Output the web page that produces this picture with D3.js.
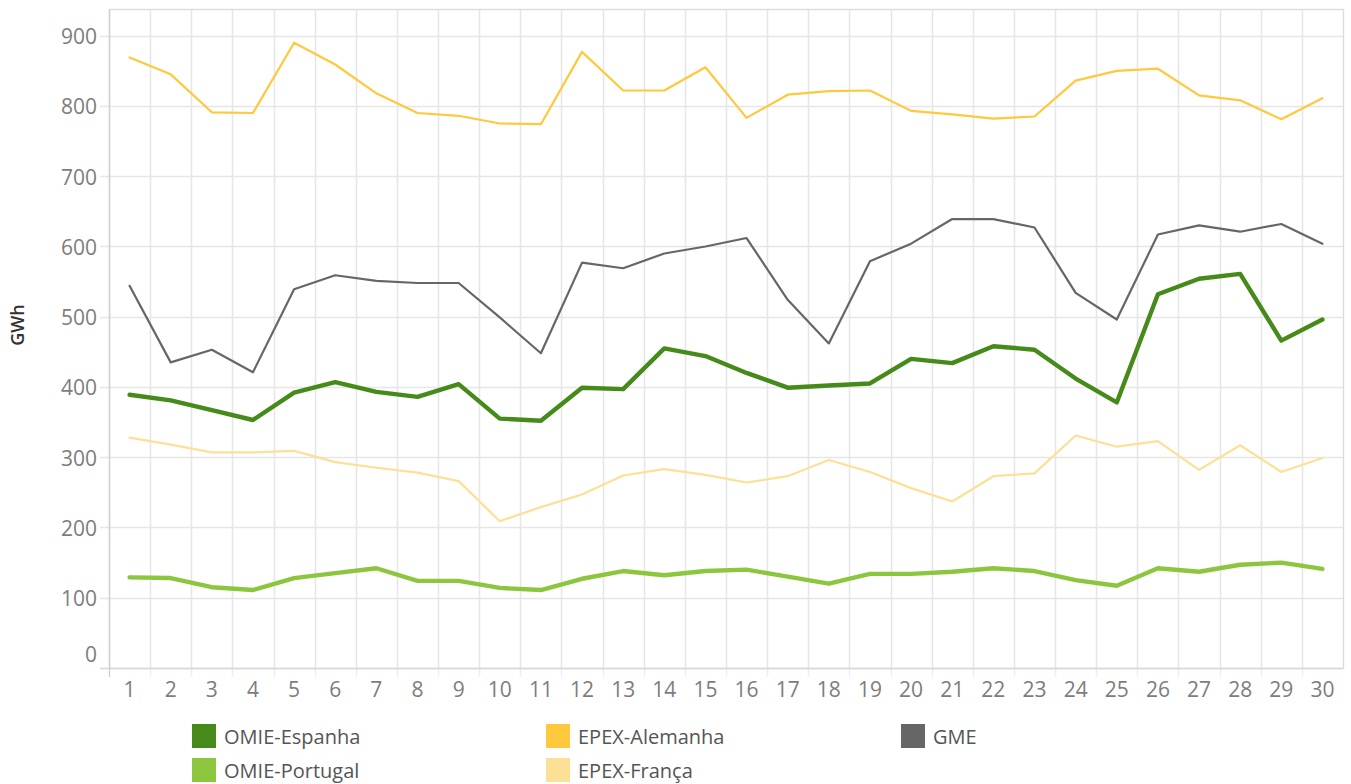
<!DOCTYPE html>
<html>
<head>
<meta charset="utf-8">
<script src="https://cdn.jsdelivr.net/npm/d3@7"></script>
<style>
  html, body { margin: 0; padding: 0; background: #fff; }
  svg { display: block; }
  text { font-family: "Open Sans", "DejaVu Sans", sans-serif; }
</style>
</head>
<body>
<svg id="chart" width="1351" height="784"></svg>
<script>
// Days of the month
const days = d3.range(1, 31);
const yTicks = [0, 100, 200, 300, 400, 500, 600, 700, 800, 900];

// Daily energy per market (GWh)
const omieEspanha = [389, 381, 367, 353, 392, 407, 393, 386, 404, 355,
                     352, 399, 397, 455, 444, 420, 399, 402, 405, 440,
                     434, 458, 453, 412, 378, 532, 554, 561, 466, 496];
const omiePortugal = [129, 128, 115, 111, 128, 135, 142, 124, 124, 114,
                      111, 127, 138, 132, 138, 140, 130, 120, 134, 134,
                      137, 142, 138, 125, 117, 142, 137, 147, 150, 141];
const epexAlemanha = [869, 845, 791, 790, 890, 859, 818, 790, 786, 775,
                      774, 877, 822, 822, 855, 783, 816, 821, 822, 793,
                      788, 782, 785, 836, 850, 853, 815, 808, 781, 811];
const epexFranca = [328, 318, 307, 307, 309, 293, 285, 278, 266, 209,
                    229, 247, 274, 283, 275, 264, 273, 296, 279, 256,
                    237, 273, 277, 331, 315, 323, 282, 317, 279, 299];
const gme = [544, 435, 453, 421, 539, 559, 551, 548, 548, 499,
             448, 577, 569, 590, 600, 612, 524, 462, 579, 604,
             639, 639, 627, 534, 496, 617, 630, 621, 632, 604];

const seriesNames = ["OMIE-Espanha", "EPEX-Alemanha", "GME", "OMIE-Portugal", "EPEX-França"];
const seriesColors = ["#468a1a", "#ffc83d", "#666666", "#8cc63f", "#fbe096"];

const seriesData = {
  "OMIE-Espanha": omieEspanha,
  "OMIE-Portugal": omiePortugal,
  "EPEX-Alemanha": epexAlemanha,
  "EPEX-França": epexFranca,
  "GME": gme
};
const strokeWidths = { "OMIE-Espanha": 4.4, "OMIE-Portugal": 4.4, "EPEX-Alemanha": 2.2, "EPEX-França": 2.2, "GME": 2.2 };
const drawOrder = ["EPEX-Alemanha", "GME", "EPEX-França", "OMIE-Portugal", "OMIE-Espanha"];

const svg = d3.select("#chart");
const plot = { left: 109, right: 1343, top: 9, bottom: 668 };

const x = d3.scaleBand().domain(days).range([plot.left, plot.right]).paddingInner(0).paddingOuter(0);
const y = d3.scaleLinear().domain([0, 938]).range([plot.bottom, plot.top]);
const color = d3.scaleOrdinal().domain(seriesNames).range(seriesColors);

// Horizontal gridlines with short ticks extending left of the plot
svg.append("g")
  .selectAll("line")
  .data(yTicks.filter(d => d > 0))
  .join("line")
  .attr("x1", plot.left - 9).attr("x2", plot.right)
  .attr("y1", d => Math.round(y(d)) + 0.5).attr("y2", d => Math.round(y(d)) + 0.5)
  .attr("stroke", "#e6e6e6").attr("stroke-width", 1.6);

// Vertical gridlines at band boundaries, extending below the axis as ticks
const boundaries = d3.range(1, days.length).map(i => plot.left + i * x.step());
svg.append("g")
  .selectAll("line")
  .data(boundaries)
  .join("line")
  .attr("x1", d => Math.round(d) + 0.5).attr("x2", d => Math.round(d) + 0.5)
  .attr("y1", plot.top).attr("y2", plot.bottom)
  .attr("stroke", "#e6e6e6").attr("stroke-width", 1.6);
svg.append("g")
  .selectAll("line")
  .data(boundaries)
  .join("line")
  .attr("x1", d => Math.round(d) + 0.5).attr("x2", d => Math.round(d) + 0.5)
  .attr("y1", plot.bottom).attr("y2", plot.bottom + 9)
  .attr("stroke", "#f0f0f0").attr("stroke-width", 1.6);

// Plot frame
svg.append("rect")
  .attr("x", plot.left + 0.5).attr("y", plot.top + 0.5)
  .attr("width", plot.right - plot.left).attr("height", plot.bottom - plot.top)
  .attr("fill", "none").attr("stroke", "#dcdcdc").attr("stroke-width", 1.4);
// Zero baseline
svg.append("line")
  .attr("x1", plot.left - 9).attr("x2", plot.right)
  .attr("y1", Math.round(y(0)) + 0.5).attr("y2", Math.round(y(0)) + 0.5)
  .attr("stroke", "#d6d6d6").attr("stroke-width", 1.6);
svg.append("line")
  .attr("x1", plot.left + 0.5).attr("x2", plot.left + 0.5)
  .attr("y1", plot.top).attr("y2", plot.bottom + 9)
  .attr("stroke", "#d0d0d0").attr("stroke-width", 1.4);

// Y axis labels
svg.append("g")
  .selectAll("text")
  .data(yTicks)
  .join("text")
  .attr("x", plot.left - 12)
  .attr("y", d => d === 0 ? y(0) - 13 : y(d) + 1)
  .attr("dy", "0.35em")
  .attr("text-anchor", "end")
  .attr("fill", "#7d7d7d")
  .attr("font-size", 21)
  .text(d => d);

// X axis labels
svg.append("g")
  .selectAll("text")
  .data(days)
  .join("text")
  .attr("x", d => x(d) + x.bandwidth() / 2)
  .attr("y", 690)
  .attr("dy", "0.35em")
  .attr("text-anchor", "middle")
  .attr("fill", "#7d7d7d")
  .attr("font-size", 21)
  .text(d => d);

// Y axis title
svg.append("text")
  .attr("transform", "translate(24,325) rotate(-90)")
  .attr("text-anchor", "middle")
  .attr("fill", "#333")
  .attr("font-size", 18)
  .attr("font-weight", 600)
  .text("GWh");

// Series lines
const line = d3.line()
  .x((d, i) => x(days[i]) + x.bandwidth() / 2)
  .y(d => y(d));

svg.append("g")
  .selectAll("path")
  .data(drawOrder)
  .join("path")
  .attr("d", name => line(seriesData[name]))
  .attr("fill", "none")
  .attr("stroke", name => color(name))
  .attr("stroke-width", name => strokeWidths[name])
  .attr("stroke-linejoin", "round")
  .attr("stroke-linecap", "round");

// Legend
const legendCols = [192, 546, 901];
const legendRows = [724, 758];
const legendItems = svg.append("g")
  .selectAll("g")
  .data(seriesNames)
  .join("g")
  .attr("transform", (d, i) => `translate(${legendCols[i % 3]},${legendRows[Math.floor(i / 3)]})`);
legendItems.append("rect")
  .attr("width", 24).attr("height", 24)
  .attr("fill", d => color(d));
legendItems.append("text")
  .attr("x", 32).attr("y", 13)
  .attr("dy", "0.35em")
  .attr("fill", "#555")
  .attr("font-size", 20)
  .text(d => d);
</script>
</body>
</html>
